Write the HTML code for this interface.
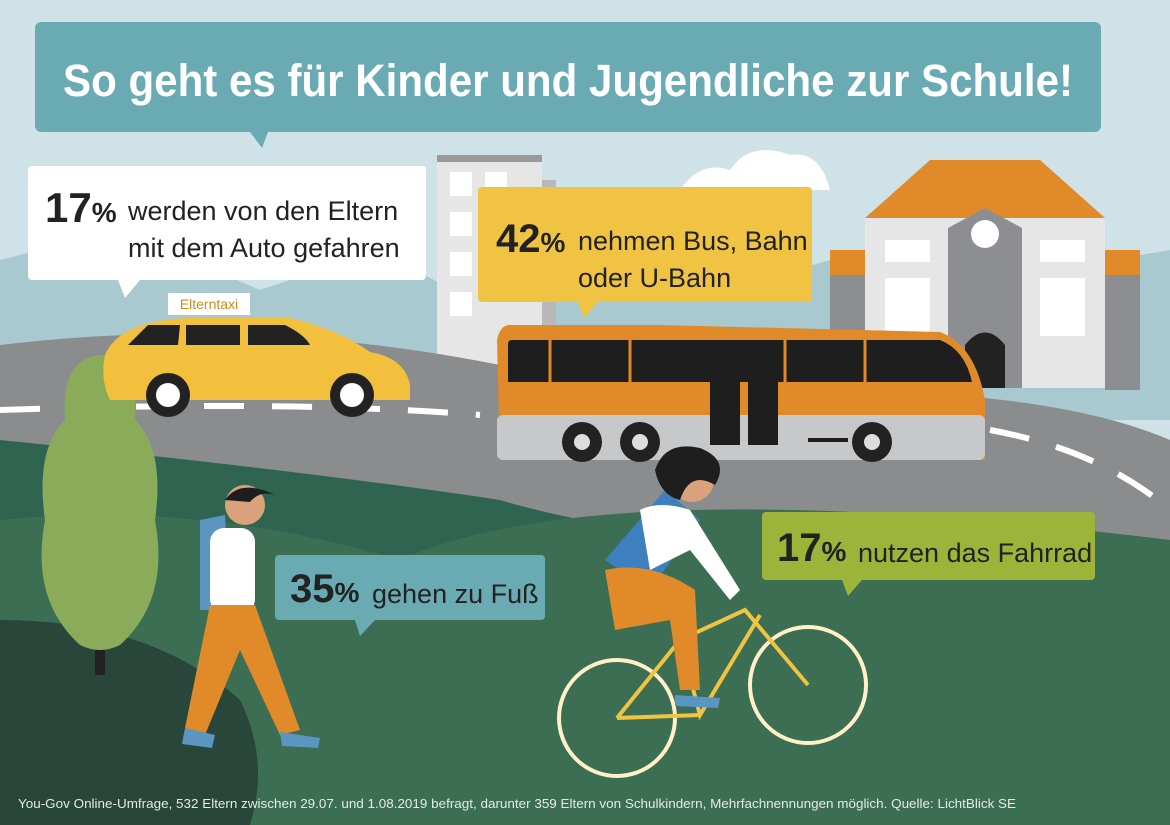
<!DOCTYPE html>
<html><head><meta charset="utf-8"><style>
html,body{margin:0;padding:0;width:1170px;height:825px;overflow:hidden;background:#cfe2e8}
svg{display:block}
text{font-family:"Liberation Sans",sans-serif}
</style></head><body>
<svg width="1170" height="825" viewBox="0 0 1170 825">
<rect width="1170" height="825" fill="#cfe2e8"/>
<path d="M680 190 Q700 160 730 170 Q750 140 790 155 Q820 150 830 190 Z" fill="#fff"/>
<path d="M0 260 L120 230 L260 290 L380 250 L470 300 L600 230 L760 280 L900 240 L1050 270 L1170 250 L1170 420 L0 420 Z" fill="#a9c9d1"/>
<rect x="437" y="155" width="105" height="225" fill="#e6e6e6"/>
<rect x="437" y="155" width="105" height="7" fill="#9a9a9a"/>
<rect x="542" y="180" width="14" height="200" fill="#b8b8b8"/>
<g fill="#fff">
<rect x="450" y="172" width="22" height="24"/><rect x="485" y="172" width="22" height="24"/>
<rect x="450" y="212" width="22" height="24"/><rect x="450" y="252" width="22" height="24"/><rect x="450" y="292" width="22" height="24"/>
</g>
<rect x="830" y="250" width="35" height="25" fill="#e08a2a"/>
<rect x="1105" y="250" width="35" height="25" fill="#e08a2a"/>
<rect x="830" y="275" width="35" height="115" fill="#8d8e91"/>
<rect x="1105" y="275" width="35" height="115" fill="#8d8e91"/>
<path d="M865 218 L930 160 L1040 160 L1105 218 Z" fill="#e08a2a"/>
<rect x="865" y="218" width="240" height="170" fill="#e6e6e6"/>
<path d="M948 228 L985 208 L1022 228 L1022 388 L948 388 Z" fill="#8d8e91"/>
<circle cx="985" cy="234" r="14" fill="#fff"/>
<path d="M965 388 L965 345 Q985 320 1005 345 L1005 388 Z" fill="#222"/>
<g fill="#fff"><rect x="885" y="240" width="45" height="22"/><rect x="885" y="278" width="45" height="58"/><rect x="1040" y="240" width="45" height="22"/><rect x="1040" y="278" width="45" height="58"/></g>
<!-- road -->
<path d="M0 345 Q250 315 500 365 L985 398 Q1100 410 1170 440 L1170 560 Q900 520 700 560 Q400 500 0 440 Z" fill="#8b8c8e"/>
<path d="M0 410 Q300 400 480 415 M990 430 Q1100 450 1170 510" stroke="#fff" stroke-width="6" stroke-dasharray="40 28" fill="none"/>
<path d="M0 440 Q300 470 500 500 Q700 560 1170 560 L1170 825 L0 825 Z" fill="#2f6450"/>
<path d="M0 520 Q200 500 400 560 Q600 470 1170 540 L1170 825 L0 825 Z" fill="#3b6e53"/>
<path d="M0 620 Q150 620 240 700 Q270 760 250 825 L0 825 Z" fill="#28463a"/>
<rect x="95" y="600" width="10" height="75" fill="#222"/>
<path d="M100 355 Q140 360 135 420 Q165 450 155 520 Q170 600 120 645 Q100 655 80 645 Q30 600 45 520 Q35 450 65 420 Q60 360 100 355 Z" fill="#8aac5a"/>
<!-- car -->
<path d="M105 355 Q120 320 190 318 L290 318 Q340 330 370 352 Q405 358 410 385 L410 400 L110 400 Q100 380 105 355 Z" fill="#f2c03c"/>
<path d="M128 345 L148 325 L180 325 L178 345 Z M186 325 L240 325 L240 345 L186 345 Z M248 325 L285 325 Q305 335 310 345 L248 345 Z" fill="#222"/>
<circle cx="168" cy="395" r="22" fill="#222"/><circle cx="168" cy="395" r="12" fill="#fff"/>
<circle cx="352" cy="395" r="22" fill="#222"/><circle cx="352" cy="395" r="12" fill="#fff"/>
<rect x="168" y="293" width="82" height="22" fill="#fff"/>
<text x="209" y="309" font-size="14" fill="#d08a1f" text-anchor="middle">Elterntaxi</text>
<!-- bus -->
<path d="M510 325 L660 325 L940 332 Q975 345 985 400 L985 460 L500 460 L497 340 Q500 325 510 325 Z" fill="#e08a2a"/>
<rect x="497" y="415" width="488" height="45" rx="6" fill="#c6c8ca"/>
<path d="M508 344 Q508 340 512 340 L940 340 Q965 350 972 382 L508 382 Z" fill="#1e1e1e"/>
<g stroke="#e08a2a" stroke-width="3"><line x1="550" y1="340" x2="550" y2="382"/><line x1="630" y1="340" x2="630" y2="382"/><line x1="785" y1="340" x2="785" y2="382"/><line x1="865" y1="340" x2="865" y2="382"/></g>
<rect x="710" y="340" width="30" height="105" fill="#1e1e1e"/><rect x="748" y="340" width="30" height="105" fill="#1e1e1e"/>
<rect x="808" y="438" width="40" height="4" fill="#1e1e1e"/>
<circle cx="582" cy="442" r="20" fill="#222"/><circle cx="582" cy="442" r="8" fill="#ddd"/>
<circle cx="640" cy="442" r="20" fill="#222"/><circle cx="640" cy="442" r="8" fill="#ddd"/>
<circle cx="872" cy="442" r="20" fill="#222"/><circle cx="872" cy="442" r="8" fill="#ddd"/>
<!-- walker -->
<path d="M200 520 L225 515 L230 610 L200 610 Z" fill="#5b95c2"/>
<rect x="210" y="528" width="45" height="85" rx="14" fill="#fff"/>
<circle cx="245" cy="505" r="20" fill="#d9a27a"/>
<path d="M225 500 Q240 478 275 495 Q260 490 250 502 Z" fill="#1e1e1e"/>
<path d="M210 605 L255 605 L300 730 L280 735 L240 650 L205 735 L185 728 Z" fill="#e08a2a"/>
<path d="M185 728 L215 735 L212 748 L182 744 Z M280 732 L320 738 L318 748 L282 746 Z" fill="#5b95c2"/>
<!-- cyclist -->
<g fill="none" stroke="#f0c343" stroke-width="4">
<circle cx="617" cy="718" r="58" stroke="#fff0c8"/><circle cx="808" cy="685" r="58" stroke="#fff0c8"/>
<path d="M617 718 L680 640 L745 610 L808 685 M680 640 L700 715 L760 615 M617 718 L700 715"/>
</g>
<path d="M605 560 L665 490 L700 520 L650 590 Z" fill="#3e7fc0"/>
<path d="M640 510 Q660 500 690 510 L740 590 L730 600 L690 550 L650 570 Z" fill="#fff"/>
<circle cx="692" cy="480" r="22" fill="#d9a27a"/>
<path d="M655 470 Q665 440 700 448 Q730 460 715 485 Q690 470 680 500 Q660 495 655 470 Z" fill="#1e1e1e"/>
<path d="M605 570 Q650 560 695 590 L700 690 L680 690 L670 620 L615 630 Z" fill="#e08a2a"/>
<path d="M675 695 L720 698 L718 708 L675 706 Z" fill="#5b95c2"/>
<!-- title -->
<rect x="35" y="22" width="1066" height="110" rx="6" fill="#6aabb3"/>
<path d="M250 132 L268 132 L262 148 Z" fill="#6aabb3"/>
<text x="568" y="96" font-size="45" font-weight="bold" fill="#fff" text-anchor="middle" textLength="1010" lengthAdjust="spacingAndGlyphs">So geht es für Kinder und Jugendliche zur Schule!</text>
<rect x="28" y="166" width="398" height="114" rx="4" fill="#fff"/>
<path d="M118 280 L140 280 L125 298 Z" fill="#fff"/>
<text x="45" y="222" font-size="42" font-weight="bold" fill="#222">17<tspan font-size="28">%</tspan></text>
<text x="128" y="220" font-size="27" fill="#222">werden von den Eltern</text>
<text x="128" y="257" font-size="27" fill="#222">mit dem Auto gefahren</text>
<rect x="478" y="187" width="334" height="115" rx="4" fill="#f0c343"/>
<path d="M578 302 L598 302 L584 318 Z" fill="#f0c343"/>
<text x="496" y="252" font-size="40" font-weight="bold" fill="#222">42<tspan font-size="28">%</tspan></text>
<text x="578" y="250" font-size="27" fill="#222">nehmen Bus, Bahn</text>
<text x="578" y="287" font-size="27" fill="#222">oder U-Bahn</text>
<rect x="275" y="555" width="270" height="65" rx="4" fill="#6aabb3"/>
<path d="M355 620 L375 620 L360 636 Z" fill="#6aabb3"/>
<text x="290" y="602" font-size="40" font-weight="bold" fill="#222">35<tspan font-size="28">%</tspan></text>
<text x="372" y="603" font-size="27" fill="#222">gehen zu Fuß</text>
<rect x="762" y="512" width="333" height="68" rx="4" fill="#9cb43a"/>
<path d="M842 580 L862 580 L848 596 Z" fill="#9cb43a"/>
<text x="777" y="561" font-size="40" font-weight="bold" fill="#222">17<tspan font-size="28">%</tspan></text>
<text x="858" y="562" font-size="27" fill="#222">nutzen das Fahrrad</text>
<text x="18" y="808" font-size="13" fill="#e8e8e8" textLength="998" lengthAdjust="spacingAndGlyphs">You-Gov Online-Umfrage, 532 Eltern zwischen 29.07. und 1.08.2019 befragt, darunter 359 Eltern von Schulkindern, Mehrfachnennungen möglich. Quelle: LichtBlick SE</text>
</svg>
</body></html>
